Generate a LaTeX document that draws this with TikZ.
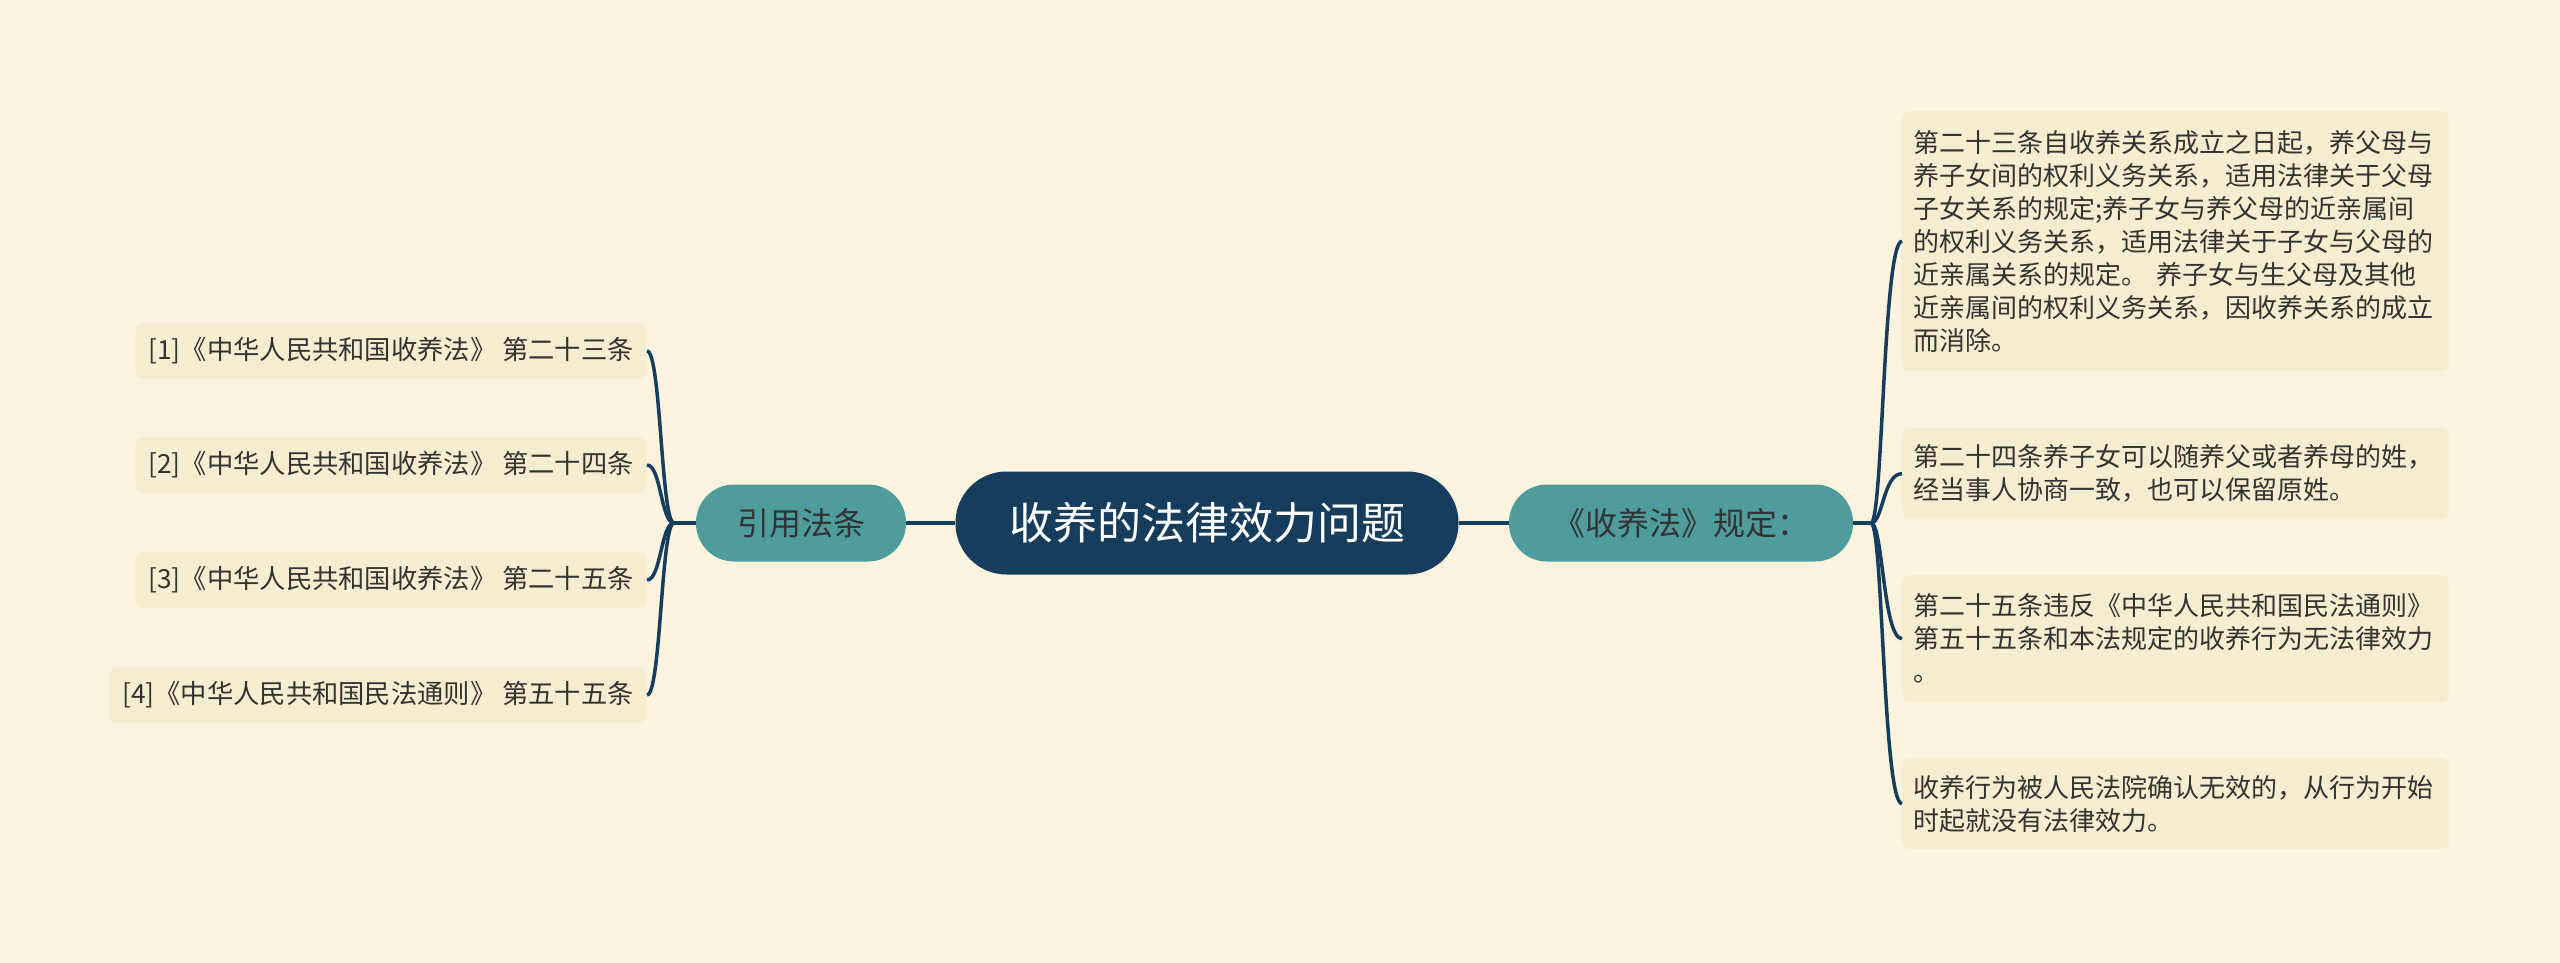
\documentclass[tikz,border=0pt]{standalone}
\usepackage{fontspec}
\setmainfont{Noto Sans CJK SC}
\definecolor{bg}{HTML}{FAF4DE}
\definecolor{leaf}{HTML}{F4EDCF}
\definecolor{navy}{HTML}{173D5C}
\definecolor{tealn}{HTML}{4E9C9B}
\definecolor{txt}{HTML}{333333}
\begin{document}
\begin{tikzpicture}[x=1pt,y=-1pt,
  root/.style={fill=navy, text=white, rounded corners=51pt, minimum width=503pt, minimum height=103pt, inner sep=0pt, font=\fontsize{44}{50}\selectfont},
  mid/.style={fill=tealn, text=txt, rounded corners=38pt, minimum height=77pt, inner sep=0pt, font=\fontsize{32}{38}\selectfont},
  leftleaf/.style={fill=leaf, text=txt, rounded corners=8pt, minimum height=56pt, inner xsep=13pt, inner ysep=0pt, anchor=east, font=\fontsize{26.3}{30}\selectfont},
  rightleaf/.style={fill=leaf, text=txt, rounded corners=8pt, text width=524pt, inner xsep=11.5pt, inner ysep=0pt, align=left, anchor=north west, font=\fontsize{26}{33}\selectfont},
  link/.style={draw=navy, line width=3.5pt}
]
\useasboundingbox[fill=bg] (0,0) rectangle (2560,963);

\node[root] (root) at (1207,523) {收养的法律效力问题};
\node[mid, minimum width=210pt] (left) at (801,523) {引用法条};
\node[mid, minimum width=344pt] (right) at (1681,523) {《收养法》规定：};

\node[leftleaf] (L1) at (647,351) {[1]《中华人民共和国收养法》 第二十三条};
\node[leftleaf] (L2) at (647,465) {[2]《中华人民共和国收养法》 第二十四条};
\node[leftleaf] (L3) at (647,580) {[3]《中华人民共和国收养法》 第二十五条};
\node[leftleaf] (L4) at (647,695) {[4]《中华人民共和国民法通则》 第五十五条};

\node[rightleaf, minimum height=260pt] (R1) at (1902,111) {第二十三条自收养关系成立之日起，养父母与\\养子女间的权利义务关系，适用法律关于父母\\子女关系的规定;养子女与养父母的近亲属间\\的权利义务关系，适用法律关于子女与父母的\\近亲属关系的规定。 养子女与生父母及其他\\近亲属间的权利义务关系，因收养关系的成立\\而消除。};
\node[rightleaf, minimum height=91pt] (R2) at (1902,428) {第二十四条养子女可以随养父或者养母的姓，\\经当事人协商一致，也可以保留原姓。};
\node[rightleaf, minimum height=127pt] (R3) at (1902,575) {第二十五条违反《中华人民共和国民法通则》\\第五十五条和本法规定的收养行为无法律效力\\。};
\node[rightleaf, minimum height=91pt] (R4) at (1902,758) {收养行为被人民法院确认无效的，从行为开始\\时起就没有法律效力。};

\draw[link] (left.east) -- (root.west);
\draw[link] (root.east) -- (right.west);

\coordinate (lj) at (674,523);
\coordinate (lbx) at (661,523);
\draw[link] (left.west) -- (lj);
\foreach \n in {L1,L2,L3,L4}{
  \draw[link] (lj) .. controls (lbx) and (lbx |- \n.east) .. (\n.east);
}

\coordinate (rj) at (1871,523);
\coordinate (rbx) at (1883,523);
\draw[link] (right.east) -- (rj);
\foreach \n in {R1,R2,R3,R4}{
  \draw[link] (rj) .. controls (rbx) and (rbx |- \n.west) .. (\n.west);
}
\end{tikzpicture}
\end{document}
